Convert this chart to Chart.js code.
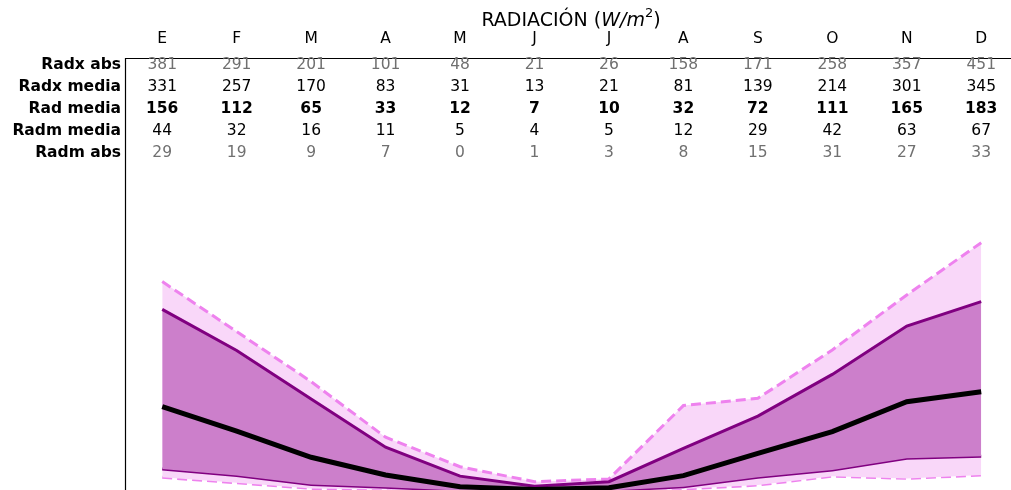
<!DOCTYPE html>
<html>
<head>
<meta charset="utf-8">
<script src="https://cdn.jsdelivr.net/npm/chart.js@4/dist/chart.umd.min.js"></script>
<style>
html,body{margin:0;padding:0;background:#fff;}
#wrap{width:1011px;height:490px;}
</style>
</head>
<body>
<div id="wrap"><canvas id="c" width="1011" height="490"></canvas></div>
<script>
const months = ['E','F','M','A','M','J','J','A','S','O','N','D'];
const radxAbs   = [381,291,201,101,48,21,26,158,171,258,357,451];
const radxMedia = [331,257,170,83,31,13,21,81,139,214,301,345];
const radMedia  = [156,112,65,33,12,7,10,32,72,111,165,183];
const radmMedia = [44,32,16,11,5,4,5,12,29,42,63,67];
const radmAbs   = [29,19,9,7,0,1,3,8,15,31,27,33];
const rowLabels = ['Radx abs','Radx media','Rad media','Radm media','Radm abs'];

const FONT = '"DejaVu Sans", sans-serif';
const pts = arr => arr.map((v,i)=>({x:i,y:v}));

const tablePlugin = {
  id:'tablePlugin',
  afterDraw(chart){
    const ctx = chart.ctx, xs = chart.scales.x, ca = chart.chartArea;
    ctx.save();
    // spines
    ctx.strokeStyle = '#000'; ctx.lineWidth = 1.2;
    ctx.beginPath();
    ctx.moveTo(ca.left+0.5, 490); ctx.lineTo(ca.left+0.5, ca.top+0.5); ctx.lineTo(1011, ca.top+0.5);
    ctx.stroke();
    // title
    ctx.textBaseline = 'middle';
    ctx.fillStyle = '#000';
    const parts = [
      {t:'RADIACIÓN (', f:'19px '+FONT, dy:0},
      {t:'W/m', f:'italic 19px '+FONT, dy:0},
      {t:'2', f:'13px '+FONT, dy:-7},
      {t:')', f:'19px '+FONT, dy:0}
    ];
    let total = 0;
    parts.forEach(p=>{ctx.font=p.f; p.w=ctx.measureText(p.t).width; total+=p.w;});
    let x0 = 571 - total/2;
    ctx.textAlign = 'left';
    parts.forEach(p=>{ctx.font=p.f; ctx.fillText(p.t, x0, 21+p.dy); x0+=p.w;});
    // header
    ctx.textAlign = 'center';
    ctx.font = '15.5px '+FONT;
    months.forEach((m,i)=>ctx.fillText(m, xs.getPixelForValue(i), 39));
    // rows
    const rows = [radxAbs, radxMedia, radMedia, radmMedia, radmAbs];
    const ys = [65, 87, 109, 131, 153];
    const colors = ['#707070','#000','#000','#000','#707070'];
    const bold = [false,false,true,false,false];
    rows.forEach((r,ri)=>{
      ctx.textAlign = 'right';
      ctx.fillStyle = '#000';
      ctx.font = 'bold 15.5px '+FONT;
      ctx.fillText(rowLabels[ri], 121, ys[ri]);
      ctx.textAlign = 'center';
      ctx.fillStyle = colors[ri];
      ctx.font = (bold[ri]?'bold ':'')+'15.5px '+FONT;
      r.forEach((v,i)=>ctx.fillText(String(v), xs.getPixelForValue(i), ys[ri]));
    });
    ctx.restore();
  }
};

new Chart(document.getElementById('c'), {
  type:'line',
  data:{
    datasets:[
      {label:'Rad media', data:pts(radMedia), borderColor:'#000', borderWidth:5, pointRadius:0, fill:false},
      {label:'Radx media', data:pts(radxMedia), borderColor:'#800080', borderWidth:3, pointRadius:0, fill:{target:2}, backgroundColor:'#cc7fcb'},
      {label:'Radm media', data:pts(radmMedia), borderColor:'#800080', borderWidth:3, pointRadius:0, fill:false},
      {label:'Radx abs', data:pts(radxAbs), borderColor:'#ee82ee', borderWidth:3, borderDash:[10,5], pointRadius:0, fill:{target:4}, backgroundColor:'#f9d7f9'},
      {label:'Radm abs', data:pts(radmAbs), borderColor:'#ee82ee', borderWidth:3, borderDash:[10,5], pointRadius:0, fill:false}
    ]
  },
  options:{
    responsive:false,
    devicePixelRatio:1,
    animation:false,
    layout:{padding:{left:125, top:58, right:0, bottom:0}},
    plugins:{legend:{display:false}, tooltip:{enabled:false}},
    scales:{
      x:{type:'linear', min:-0.5, max:11.4, display:false},
      y:{type:'linear', min:6.1, max:783.2, display:false}
    }
  },
  plugins:[tablePlugin]
});
</script>
</body>
</html>
